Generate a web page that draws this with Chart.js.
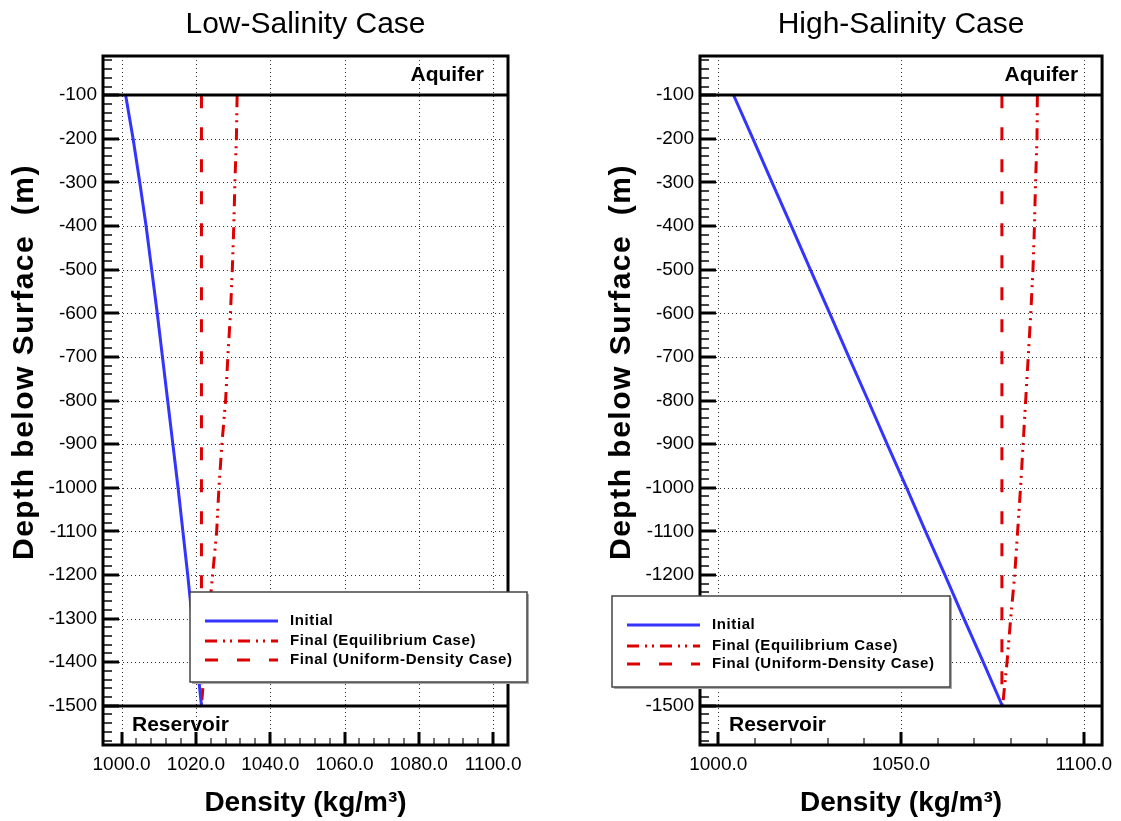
<!DOCTYPE html>
<html lang="en">
<head>
<meta charset="UTF-8">
<title>Density profiles - Low / High Salinity</title>
<script src="https://cdn.jsdelivr.net/npm/chart.js"></script>
<style>
  body { margin: 0; background: #fff; }
  .wrap { position: relative; width: 1121px; height: 821px; }
  canvas { position: absolute; top: 0; }
  #lowChart { left: 0; }
  #highChart { left: 597px; }
</style>
</head>
<body>
<div class="wrap">
  <canvas id="lowChart" width="597" height="821"></canvas>
  <canvas id="highChart" width="524" height="821"></canvas>
</div>
<script>
// depth (m) and densities (kg/m3)
const depths = [-100, -200, -300, -400, -500, -600, -700, -800, -900, -1000, -1100, -1200, -1300, -1400, -1500];

const lowInitial     = [1001.1, 1003.1, 1004.9, 1006.6, 1008.1, 1009.6, 1011.0, 1012.4, 1013.8, 1015.2, 1016.5, 1017.8, 1019.0, 1020.3, 1021.5];
const lowEquilibrium = [1031.1, 1030.9, 1030.5, 1030.2, 1029.8, 1029.3, 1028.6, 1028.0, 1027.0, 1026.2, 1025.6, 1024.5, 1023.4, 1022.4, 1021.5];
const lowUniform     = [1021.5, 1021.5, 1021.5, 1021.5, 1021.5, 1021.5, 1021.5, 1021.5, 1021.5, 1021.5, 1021.5, 1021.5, 1021.5, 1021.5, 1021.5];

const highInitial     = [1004.2, 1009.5, 1014.7, 1020.0, 1025.2, 1030.5, 1035.7, 1041.0, 1046.2, 1051.5, 1056.7, 1062.0, 1067.2, 1072.5, 1077.7];
const highEquilibrium = [1087.3, 1087.2, 1086.8, 1086.5, 1086.1, 1085.5, 1084.8, 1084.1, 1083.4, 1082.7, 1081.9, 1081.1, 1080.0, 1079.0, 1077.8];
const highUniform     = [1077.6, 1077.6, 1077.6, 1077.6, 1077.6, 1077.6, 1077.6, 1077.6, 1077.6, 1077.6, 1077.6, 1077.6, 1077.6, 1077.6, 1077.6];

const seriesLabels = ['Initial', 'Final (Equilibrium Case)', 'Final (Uniform-Density Case)'];

const yTickValues = [-100, -200, -300, -400, -500, -600, -700, -800, -900, -1000, -1100, -1200, -1300, -1400, -1500];
const lowXTicks = [1000, 1020, 1040, 1060, 1080, 1100];
const highXTicks = [1000, 1050, 1100];
const boundaryDepths = [-100, -1500];
const zoneNames = ['Aquifer', 'Reservoir'];

const FONT = 'Arial, "Liberation Sans", Helvetica, sans-serif';
const BLUE = '#3434ff';
const RED = '#dd0000';
const DASH = [13, 19];
const DASH_DOT = [12, 6, 2, 5, 2, 6];

function points(values) {
    return depths.map((d, i) => ({ x: values[i], y: d }));
}

// dotted grid, inward ticks, frame, boundary lines, zone labels, y title, legend
const decorations = {
    id: 'decorations',
    beforeDatasetsDraw(chart, args, opts) {
        const { ctx, chartArea: a, scales: { x, y } } = chart;
        ctx.save();
        ctx.strokeStyle = '#333';
        ctx.lineWidth = 1;
        ctx.setLineDash([1, 3]);
        ctx.beginPath();
        opts.xMajor.forEach(v => {
            const px = Math.round(x.getPixelForValue(v)) + 0.5;
            ctx.moveTo(px, a.top);
            ctx.lineTo(px, a.bottom);
        });
        yTickValues.forEach(v => {
            const py = Math.round(y.getPixelForValue(v)) + 0.5;
            ctx.moveTo(a.left, py);
            ctx.lineTo(a.right, py);
        });
        ctx.stroke();
        ctx.restore();
    },
    afterDatasetsDraw(chart, args, opts) {
        const { ctx, chartArea: a, scales: { x, y } } = chart;
        ctx.save();
        ctx.setLineDash([]);

        // left axis ticks (inward)
        for (let v = -20; v > y.min; v -= 20) {
            const py = Math.round(y.getPixelForValue(v));
            const major = v % 100 === 0;
            ctx.strokeStyle = major ? '#000' : '#444';
            ctx.lineWidth = major ? 3 : 2;
            ctx.beginPath();
            ctx.moveTo(a.left, py);
            ctx.lineTo(a.left + (major ? 16 : 9), py);
            ctx.stroke();
        }

        // bottom axis ticks (inward)
        for (let v = opts.xMajor[0]; v <= opts.xMajor[opts.xMajor.length - 1]; v += opts.xMinorStep) {
            const px = Math.round(x.getPixelForValue(v));
            const major = opts.xMajor.includes(v);
            ctx.strokeStyle = major ? '#000' : '#444';
            ctx.lineWidth = major ? 3 : 1.5;
            ctx.beginPath();
            ctx.moveTo(px, a.bottom);
            ctx.lineTo(px, a.bottom - (major ? 13 : 7));
            ctx.stroke();
        }

        // aquifer / reservoir boundaries
        ctx.strokeStyle = '#000';
        ctx.lineWidth = 3;
        boundaryDepths.forEach(d => {
            const py = Math.round(y.getPixelForValue(d));
            ctx.beginPath();
            ctx.moveTo(a.left, py);
            ctx.lineTo(a.right, py);
            ctx.stroke();
        });

        // frame
        ctx.strokeRect(a.left, a.top, a.right - a.left, a.bottom - a.top);

        // zone labels
        ctx.fillStyle = '#000';
        ctx.font = 'bold 21px ' + FONT;
        ctx.textBaseline = 'middle';
        ctx.textAlign = 'right';
        ctx.fillText(zoneNames[0], a.right - 24, (a.top + y.getPixelForValue(boundaryDepths[0])) / 2);
        ctx.textAlign = 'left';
        ctx.fillText(zoneNames[1], a.left + 29, (a.bottom + y.getPixelForValue(boundaryDepths[1])) / 2);

        // y axis title
        ctx.save();
        ctx.translate(opts.yTitle.x, opts.yTitle.y);
        ctx.rotate(-Math.PI / 2);
        ctx.textAlign = 'center';
        ctx.font = 'bold 30px ' + FONT;
        ctx.letterSpacing = '1.5px';
        ctx.fillText(opts.yTitle.text, 0, 0);
        ctx.restore();

        // legend box
        const L = opts.legend;
        ctx.fillStyle = '#aaa';
        ctx.fillRect(L.x + 2, L.y + 2, L.w, L.h);
        ctx.fillStyle = '#fff';
        ctx.fillRect(L.x, L.y, L.w, L.h);
        ctx.strokeStyle = '#444';
        ctx.lineWidth = 1.5;
        ctx.strokeRect(L.x, L.y, L.w, L.h);

        ctx.font = 'bold 15px ' + FONT;
        ctx.letterSpacing = '0.6px';
        ctx.textAlign = 'left';
        chart.data.datasets.forEach((ds, i) => {
            const ry = L.y + L.rows[i];
            ctx.strokeStyle = ds.borderColor;
            ctx.lineWidth = ds.borderWidth;
            ctx.setLineDash(ds.borderDash || []);
            ctx.beginPath();
            ctx.moveTo(L.x + 15, ry);
            ctx.lineTo(L.x + 88, ry);
            ctx.stroke();
            ctx.setLineDash([]);
            ctx.fillStyle = '#000';
            ctx.fillText(ds.label, L.x + 100, ry);
        });
        ctx.restore();
    }
};

function makeChart(id, title, series, xRange, xMajor, xMinorStep, padRight, legend) {
    const ctx = document.getElementById(id).getContext('2d');
    return new Chart(ctx, {
        type: 'scatter',
        data: {
            datasets: [
                { label: seriesLabels[0], data: points(series[0]), borderColor: BLUE, borderWidth: 3, borderDash: [] },
                { label: seriesLabels[1], data: points(series[1]), borderColor: RED, borderWidth: 3, borderDash: DASH_DOT },
                { label: seriesLabels[2], data: points(series[2]), borderColor: RED, borderWidth: 3, borderDash: DASH }
            ].map(ds => Object.assign(ds, { showLine: true, pointRadius: 0, pointHoverRadius: 0, tension: 0, fill: false }))
        },
        plugins: [decorations],
        options: {
            responsive: false,
            animation: false,
            layout: { padding: { left: 0, right: padRight, top: 0, bottom: 0 } },
            scales: {
                x: {
                    type: 'linear',
                    min: xRange[0],
                    max: xRange[1],
                    afterBuildTicks: scale => { scale.ticks = xMajor.map(v => ({ value: v })); },
                    afterFit: scale => { scale.height = 76; },
                    grid: { display: false, drawTicks: false },
                    border: { display: false },
                    ticks: {
                        color: '#000',
                        padding: 8,
                        maxRotation: 0,
                        font: { family: FONT, size: 19 },
                        callback: v => Number(v).toFixed(1)
                    },
                    title: {
                        display: true,
                        text: 'Density (kg/m³)',
                        color: '#000',
                        font: { family: FONT, size: 28, weight: 'bold' },
                        padding: { top: 0, bottom: 1 }
                    }
                },
                y: {
                    type: 'linear',
                    min: -1590,
                    max: -10,
                    afterBuildTicks: scale => { scale.ticks = yTickValues.map(v => ({ value: v })); },
                    afterFit: scale => { scale.width = 103; },
                    grid: { display: false, drawTicks: false },
                    border: { display: false },
                    ticks: {
                        color: '#000',
                        padding: 6,
                        font: { family: FONT, size: 19 },
                        callback: v => String(v)
                    }
                }
            },
            plugins: {
                legend: { display: false },
                tooltip: { enabled: false },
                title: {
                    display: true,
                    text: title,
                    fullSize: false,
                    color: '#000',
                    font: { family: FONT, size: 30, weight: 'normal' },
                    padding: { top: 7, bottom: 13 }
                },
                decorations: {
                    xMajor: xMajor,
                    xMinorStep: xMinorStep,
                    yTitle: { text: 'Depth below Surface  (m)', x: 25, y: 362 },
                    legend: legend
                }
            }
        }
    });
}

makeChart('lowChart', 'Low-Salinity Case', [lowInitial, lowEquilibrium, lowUniform],
    [995, 1104], lowXTicks, 4, 89,
    { x: 190, y: 592, w: 337, h: 90, rows: [29, 49, 68] });

makeChart('highChart', 'High-Salinity Case', [highInitial, highEquilibrium, highUniform],
    [995, 1105], highXTicks, 10, 14,
    { x: 15, y: 596, w: 338, h: 91, rows: [29, 50, 68] });
</script>
</body>
</html>
